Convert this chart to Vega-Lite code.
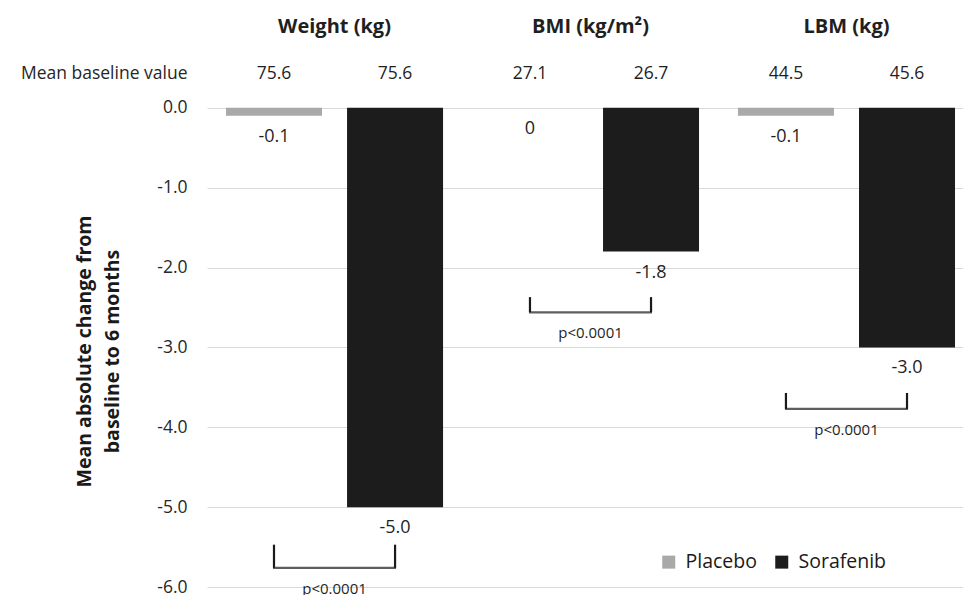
{
  "$schema": "https://vega.github.io/schema/vega-lite/v6.json",
  "width": 756,
  "height": 567,
  "autosize": {"type": "none"},
  "padding": {"left": 207, "top": 20, "right": 0, "bottom": 8},
  "background": "white",
  "config": {
    "view": {"stroke": null},
    "font": "Open Sans",
    "text": {"font": "Open Sans", "color": "#1f1f1f"}
  },
  "datasets": {
    "bars": [
      {"group": "Weight", "treatment": "Placebo", "value": -0.1, "label": "-0.1", "baseline": "75.6"},
      {"group": "Weight", "treatment": "Sorafenib", "value": -5.0, "label": "-5.0", "baseline": "75.6"},
      {"group": "BMI", "treatment": "Placebo", "value": 0, "label": "0", "baseline": "27.1"},
      {"group": "BMI", "treatment": "Sorafenib", "value": -1.8, "label": "-1.8", "baseline": "26.7"},
      {"group": "LBM", "treatment": "Placebo", "value": -0.1, "label": "-0.1", "baseline": "44.5"},
      {"group": "LBM", "treatment": "Sorafenib", "value": -3.0, "label": "-3.0", "baseline": "45.6"}
    ],
    "titles": [
      {"group": "Weight", "title": "Weight (kg)"},
      {"group": "BMI", "title": "BMI (kg/m²)"},
      {"group": "LBM", "title": "LBM (kg)"}
    ],
    "brackets": [
      {"group": "Weight", "treatment": "Placebo", "top": -5.47, "bottom": -5.76, "p": "p<0.0001"},
      {"group": "Weight", "treatment": "Sorafenib", "top": -5.47, "bottom": -5.76, "p": "p<0.0001"},
      {"group": "BMI", "treatment": "Placebo", "top": -2.37, "bottom": -2.56, "p": "p<0.0001"},
      {"group": "BMI", "treatment": "Sorafenib", "top": -2.37, "bottom": -2.56, "p": "p<0.0001"},
      {"group": "LBM", "treatment": "Placebo", "top": -3.57, "bottom": -3.77, "p": "p<0.0001"},
      {"group": "LBM", "treatment": "Sorafenib", "top": -3.57, "bottom": -3.77, "p": "p<0.0001"}
    ]
  },
  "encoding": {
    "x": {
      "field": "group", "type": "nominal",
      "scale": {"domain": ["Weight", "BMI", "LBM"], "paddingInner": 0.152, "paddingOuter": 0.0527, "align": 0.704},
      "axis": null
    }
  },
  "layer": [
    {
      "data": {"name": "bars"},
      "mark": {"type": "bar"},
      "encoding": {
        "xOffset": {"field": "treatment", "type": "nominal", "scale": {"domain": ["Placebo", "Sorafenib"], "paddingInner": 0.207, "paddingOuter": 0}},
        "y": {
          "field": "value", "type": "quantitative",
          "scale": {"domain": [-6, 1.1], "nice": false, "zero": true},
          "axis": {
            "values": [0.43, 0, -1, -2, -3, -4, -5, -6],
            "labelExpr": "datum.value > 0.1 ? 'Mean baseline value' : (datum.value == 0 ? '0.0' : '-' + format(-datum.value, '.1f'))",
            "labelFont": "Open Sans",
            "labelFontSize": 17.5,
            "labelColor": "#262626",
            "labelPadding": 20,
            "ticks": false,
            "tickSize": 0,
            "domain": false,
            "grid": true,
            "gridColor": "#d9d9d9",
            "gridWidth": 1,
            "gridOpacity": {"condition": {"test": "datum.value > 0.1", "value": 0}, "value": 1},
            "title": ["Mean absolute change from", "baseline to 6 months"],
            "titleFont": "Open Sans",
            "titleFontSize": 19.5,
            "titleFontWeight": "bold",
            "titleColor": "#1a1a1a",
            "titleAngle": -90,
            "titleAlign": "center",
            "titleBaseline": "middle",
            "titleLineHeight": 28,
            "titleX": -123,
            "titleY": 331
          }
        },
        "color": {
          "field": "treatment", "type": "nominal",
          "scale": {"domain": ["Placebo", "Sorafenib"], "range": ["#a9a9a9", "#1c1c1c"]},
          "legend": {
            "title": null,
            "orient": "none",
            "direction": "horizontal",
            "legendX": 452,
            "legendY": 532,
            "symbolType": "square",
            "symbolSize": 169,
            "symbolStrokeWidth": 0,
            "labelFont": "Open Sans",
            "labelFontSize": 19.5,
            "labelColor": "#1a1a1a",
            "labelOffset": 7,
            "columnPadding": 15
          }
        }
      }
    },
    {
      "data": {"name": "bars"},
      "mark": {"type": "text", "dy": 21, "fontSize": 18, "baseline": "middle", "align": "center"},
      "encoding": {
        "xOffset": {"field": "treatment", "type": "nominal"},
        "y": {"field": "value", "type": "quantitative"},
        "text": {"field": "label"}
      }
    },
    {
      "data": {"name": "bars"},
      "mark": {"type": "text", "fontSize": 17.5, "baseline": "middle", "align": "center"},
      "encoding": {
        "xOffset": {"field": "treatment", "type": "nominal"},
        "y": {"datum": 0.43, "type": "quantitative"},
        "text": {"field": "baseline"}
      }
    },
    {
      "data": {"name": "titles"},
      "mark": {"type": "text", "fontSize": 20, "fontWeight": "bold", "baseline": "middle", "align": "center"},
      "encoding": {
        "y": {"datum": 1.01, "type": "quantitative"},
        "text": {"field": "title"}
      }
    },
    {
      "data": {"name": "brackets"},
      "mark": {"type": "rule", "color": "#1a1a1a", "strokeWidth": 2.2},
      "encoding": {
        "xOffset": {"field": "treatment", "type": "nominal"},
        "y": {"field": "top", "type": "quantitative"},
        "y2": {"field": "bottom"}
      }
    },
    {
      "data": {"name": "brackets"},
      "transform": [{"filter": "datum.treatment == 'Placebo'"}],
      "mark": {"type": "tick", "color": "#1a1a1a", "thickness": 2.2, "size": 123, "orient": "horizontal"},
      "encoding": {
        "y": {"field": "bottom", "type": "quantitative"}
      }
    },
    {
      "data": {"name": "brackets"},
      "transform": [{"filter": "datum.treatment == 'Placebo'"}],
      "mark": {"type": "text", "dy": 21, "fontSize": 15, "baseline": "middle", "align": "center"},
      "encoding": {
        "y": {"field": "bottom", "type": "quantitative"},
        "text": {"field": "p"}
      }
    }
  ]
}
